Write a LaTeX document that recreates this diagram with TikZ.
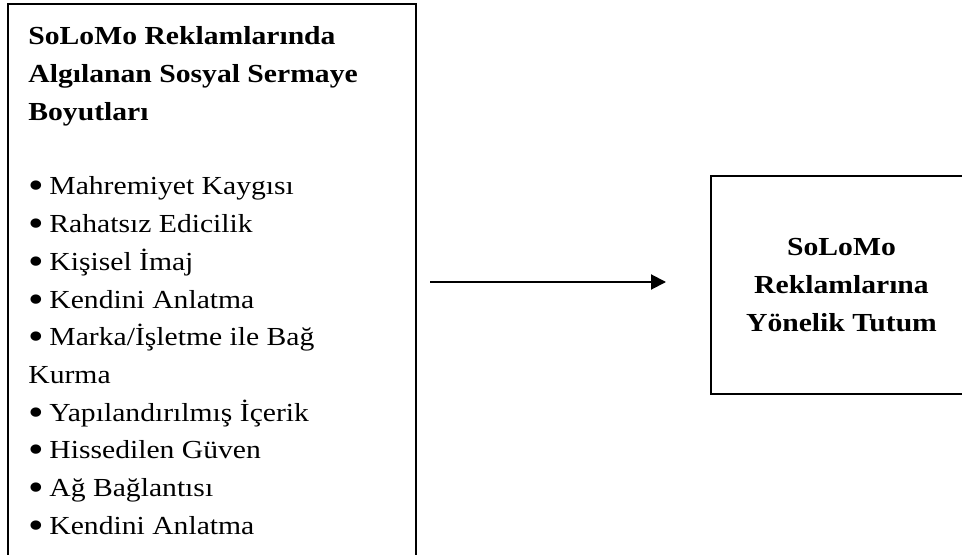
\documentclass[tikz,border=0pt]{standalone}
\usepackage{fontspec}
\setmainfont{Liberation Serif}[FakeStretch=1.14]
\usetikzlibrary{arrows.meta}

\newcommand{\madde}{\makebox[10.5pt][l]{\raisebox{-2pt}{\scalebox{1.5}{•}}}}

\begin{document}
\begin{tikzpicture}[x=0.5pt,y=-0.5pt,
    kutu/.style={draw,line width=1pt},
    satir/.style={anchor=base west,inner sep=0pt,font=\fontsize{13pt}{18.9pt}\selectfont},
    ok/.style={-{Triangle[length=7.5pt,width=7.5pt]},line width=1pt}]
\useasboundingbox (0,0) rectangle (962,555);
\clip (0,0) rectangle (962,555);
% sol kutu
\draw[kutu] (8,4) rectangle (416,620);
\node[satir] (baslik1) at (28,45) {\textbf{SoLoMo Reklamlarında}};
\node[satir] (baslik2) at (28,83) {\textbf{Algılanan Sosyal Sermaye}};
\node[satir] (baslik3) at (28,121) {\textbf{Boyutları}};
\foreach \metin [count=\i from 0] in {\madde Mahremiyet Kaygısı,
    \madde Rahatsız Edicilik, \madde Kişisel İmaj,
    \madde Kendini Anlatma, \madde Marka/İşletme ile Bağ, Kurma,
    \madde Yapılandırılmış İçerik, \madde Hissedilen Güven,
    \madde Ağ Bağlantısı, \madde Kendini Anlatma}
  \node[satir] (madde\i) at (28,{195+37.7*\i}) {\metin};
% sag kutu
\node[kutu,align=center,minimum width=130.5pt,minimum height=108.5pt,
  font=\fontsize{13pt}{18.9pt}\selectfont\bfseries] (tutum) at (841.5,285)
  {SoLoMo\\Reklamlarına\\Yönelik Tutum};
\coordinate (okbas) at (430,282);
\draw[ok,shorten >=22pt] (okbas) -- (okbas -| tutum.west);
\end{tikzpicture}
\end{document}
